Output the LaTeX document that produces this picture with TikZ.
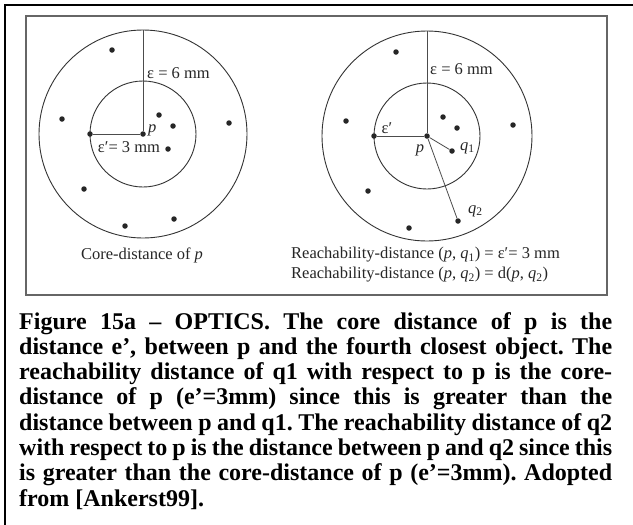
\documentclass[tikz,border=0pt]{standalone}
\usepackage{fontspec}
\setmainfont{Liberation Serif}
\newfontfamily\capfont[Ligatures=TeX]{Liberation Serif}
\usetikzlibrary{positioning}

\tikzset{
  pt/.style={circle, fill=black!85, inner sep=0pt, minimum size=5.5pt},
  ring/.style={draw=black!80, line width=0.9pt},
  rad/.style={draw=black!70, line width=0.8pt},
  lbl/.style={font=\fontsize{16.5}{18}\selectfont, text=black!85, inner sep=0pt},
}

\begin{document}
\begin{tikzpicture}[x=1pt, y=-1pt]
  \useasboundingbox (0,0) rectangle (633,525);
  % outer frame
  \draw[line width=2.4pt] (5,525) -- (5,5) -- (633,5);
  % box of the scanned figure
  \draw[black!60, line width=1.2pt] (26,16) rectangle (607,295);

  % left: core-distance
  \begin{scope}[shift={(143,134)}, name prefix=l-]
    \draw[ring] (0,0) circle (104pt);
    \draw[ring] (0,0) circle (53pt);
    \node[pt] (p) at (0,0) {};
    \node[pt] (e) at (-53,0) {};
    \coordinate (top) at (0,-104);
    \foreach \x/\y [count=\i] in {-31/-84, -81/-15, 16/-19, 30/-8, 86/-11, 25/15, -59/55, -18/92, 31/85}
      \node[pt] (d\i) at (\x,\y) {};
    \draw[rad] (p) -- (top);
    \draw[rad] (p) -- (e);
    \node[lbl, anchor=west] (eps) at (4,-61) {ε = 6 mm};
    \node[lbl, anchor=west] (plbl) at (5,-4) {\itshape p};
    \node[lbl] (epsc) at (-14,13) {ε′= 3 mm};
    \node[lbl] (cap) at (-1,121) {Core-distance of \textit{p}};
  \end{scope}

  % right: reachability-distance
  \begin{scope}[shift={(427,136)}, name prefix=r-]
    \draw[ring] (0,0) circle (105pt);
    \draw[ring] (0,0) circle (53pt);
    \node[pt] (p) at (0,0) {};
    \node[pt] (e) at (-53,0) {};
    \coordinate (top) at (0,-105);
    \foreach \x/\y [count=\i] in {-31/-84, -81/-15, 16/-19, 30/-8, 86/-11, 25/15, -59/55, -18/92, 31/85}
      \node[pt] (d\i) at (\x,\y) {};
    \draw[rad] (p) -- (top);
    \draw[rad] (p) -- (e);
    \draw[rad] (p) -- (d6);
    \draw[rad] (p) -- (d9);
    \node[lbl, anchor=west] (eps) at (3,-67) {ε = 6 mm};
    \node[lbl] (epsc) at (-40,-8) {ε′};
    \node[lbl] (plbl) at (-7,14) {\itshape p};
    \node[lbl, anchor=west] (q1) at (33,12) {\textit{q}\textsubscript{1}};
    \node[lbl, anchor=west] (q2) at (41,75) {\textit{q}\textsubscript{2}};
    \node[lbl, anchor=west] (rd1) at (-136,119) {Reachability-distance (\textit{p}, \textit{q}\textsubscript{1}) = ε′= 3 mm};
    \node[lbl, anchor=west] (rd2) at (-136,139) {Reachability-distance (\textit{p}, \textit{q}\textsubscript{2}) = d(\textit{p}, \textit{q}\textsubscript{2})};
  \end{scope}

  % caption
  \node[anchor=north west, inner sep=0pt, text width=593pt, align=justify,
        font=\capfont\bfseries\fontsize{24}{25.3}\selectfont] (caption) at (19,312)
  {\frenchspacing\tolerance=9999\emergencystretch=20pt
   Figure 15a -- OPTICS. The core distance of p is the\linebreak
   distance e', between p and the fourth closest object. The\linebreak
   reachability distance of q1 with respect to p is the core-\linebreak
   distance of p (e'=3mm) since this is greater than the\linebreak
   distance between p and q1. The reachability distance of q2\linebreak
   with respect to p is the distance between p and q2 since this\linebreak
   is greater than the core-distance of p (e'=3mm). Adopted\linebreak
   from [Ankerst99].};
\end{tikzpicture}
\end{document}
